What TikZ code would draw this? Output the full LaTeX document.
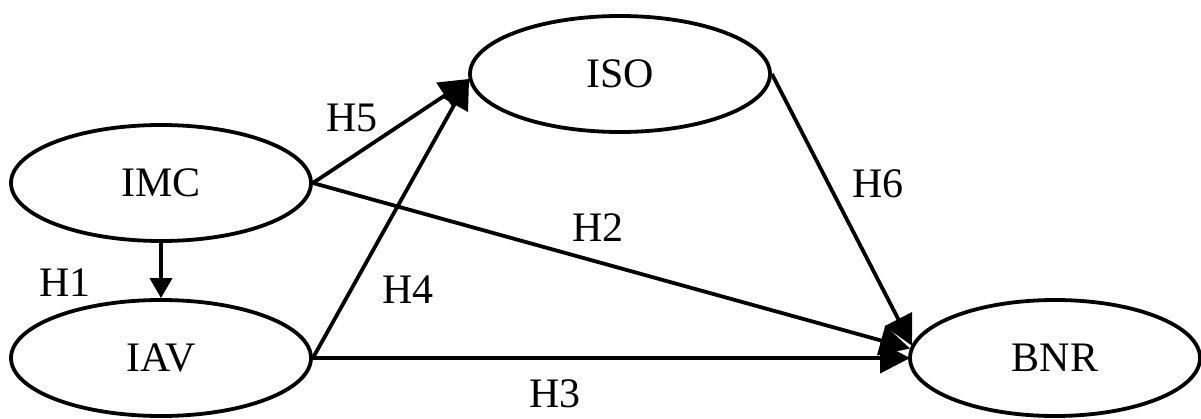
\documentclass[tikz,border=0pt]{standalone}
\usepackage{fontspec}
\setmainfont{Liberation Serif}
\usetikzlibrary{arrows.meta,positioning,shapes.geometric}

\tikzset{
  construct/.style={draw, ellipse, line width=3.8pt, minimum width=300pt, minimum height=116pt, inner sep=0pt, font=\fontsize{42}{50}\selectfont},
  hyplabel/.style={font=\fontsize{42}{50}\selectfont, inner sep=0pt},
  path/.style={line width=3.8pt, -{Triangle[length=30pt, width=30pt]}, shorten >=-2pt}
}

\begin{document}
\begin{tikzpicture}[x=1pt, y=-1pt]
  \useasboundingbox (0,0) rectangle (1201,419);

  % Constructs
  \node[construct] (imc) at (161,183) {IMC};
  \node[construct] (iav) at (161,358) {IAV};
  \node[construct] (iso) at (620,74) {ISO};
  \node[construct, minimum width=290pt] (bnr) at (1055,358) {BNR};

  % Paths
  \draw[line width=3.8pt, -{Triangle[length=20pt, width=22pt]}] (imc.south) -- (iav.north);
  \draw[path] (imc.east) -- ([yshift=-6pt]iso.west);
  \draw[path] (iav.east) -- ([yshift=-6pt]iso.west);
  \draw[path] (imc.east) -- ([yshift=10pt]bnr.west);
  \draw[path] (iav.east) -- (bnr.west);
  \draw[path] (iso.east) -- ([xshift=3pt, yshift=14pt]bnr.west);

  % Labels
  \node[hyplabel] (h1) at (65,283) {H1};
  \node[hyplabel] (h2) at (598,228) {H2};
  \node[hyplabel] (h3) at (555,394) {H3};
  \node[hyplabel] (h4) at (408,290) {H4};
  \node[hyplabel] (h5) at (352,118) {H5};
  \node[hyplabel] (h6) at (878,184) {H6};
\end{tikzpicture}
\end{document}
